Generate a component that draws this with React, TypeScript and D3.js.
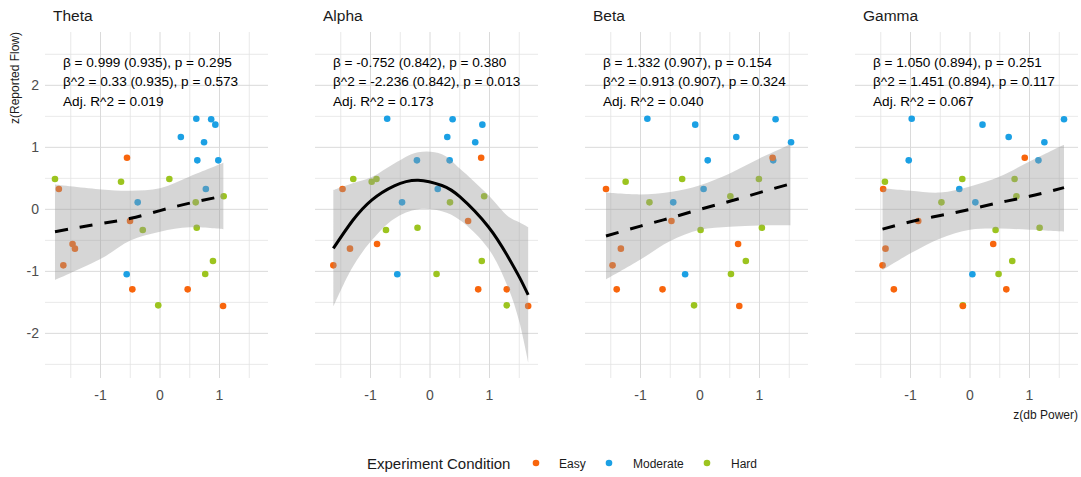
import React from "react";
import * as d3 from "d3";

const bands = ["Theta", "Alpha", "Beta", "Gamma"];
const conditions = ["Easy", "Moderate", "Hard"];
const conditionColors = ["#F8650C", "#1BA0E4", "#9CC41F"];

// one entry per participant
const participantCondition = [
  "Easy", "Easy", "Easy", "Easy", "Easy", "Easy", "Easy", "Easy", "Easy",
  "Moderate", "Moderate", "Moderate", "Moderate", "Moderate", "Moderate", "Moderate", "Moderate", "Moderate", "Moderate",
  "Hard", "Hard", "Hard", "Hard", "Hard", "Hard", "Hard", "Hard", "Hard", "Hard",
];
const reportedFlow = [
  0.833, 0.328, -0.188, -0.559, -0.634, -0.903, -1.29, -1.29, -1.559,
  1.462, 1.452, 1.366, 1.167, 1.081, 0.79, 0.79, 0.328, 0.113, -1.048,
  0.489, 0.489, 0.446, 0.21, 0.113, -0.296, -0.333, -0.833, -1.043, -1.548,
];
const powerTheta = [
  -0.555, -1.7, -0.504, -1.47, -1.43, -1.625, -0.465, 0.465, 1.06,
  0.61, 0.86, 0.93, 0.35, 0.74, 0.627, 0.98, 0.77, -0.375, -0.56,
  -1.765, 0.157, -0.655, 1.07, 0.6, 0.617, -0.29, 0.89, 0.76, -0.03,
];
const powerAlpha = [
  0.86, -1.47, 0.64, -0.89, -1.345, -1.625, 0.81, 1.29, 1.65,
  -0.72, 0.38, 0.88, 0.29, 0.76, -0.22, 0.33, 0.13, -0.47, -0.55,
  -1.29, -0.9, -0.98, 0.91, 0.336, -0.21, -0.74, 0.87, 0.11, 1.29,
];
const powerBeta = [
  1.22, -1.58, -0.48, 0.64, -1.33, -1.47, -1.4, -0.63, 0.66,
  -0.885, 1.27, -0.08, 0.61, 1.53, 0.13, 1.23, 0.06, -0.45, -0.25,
  -0.3, 0.99, -1.25, 0.51, -0.85, 1.04, 0.01, 0.77, 0.52, -0.1,
];
const powerGamma = [
  0.92, -1.46, -0.87, 0.39, -1.42, -1.47, -1.28, 0.61, -0.12,
  -0.98, 1.58, 0.21, 0.65, 1.25, -1.03, 1.15, -0.18, 0.09, 0.04,
  -0.13, 0.75, -1.43, 0.78, -0.48, 1.17, 0.43, 0.71, 0.48, -0.12,
];
const powerByBand = [powerTheta, powerAlpha, powerBeta, powerGamma];

// fitted curves
const fitXTheta = [-1.765, -0.98, -0.49, 0, 0.5, 1.065];
const fitYTheta = [-0.36, -0.226, -0.145, -0.02, 0.1, 0.215];
const fitLoTheta = [-1.14, -0.79, -0.5, -0.36, -0.29, -0.32];
const fitHiTheta = [0.4, 0.32, 0.3, 0.34, 0.53, 0.75];

const fitXAlpha = [-1.625, -1.3, -0.98, -0.6, -0.2, 0.2, 0.5, 0.98, 1.32, 1.5, 1.65];
const fitYAlpha = [-0.63, -0.18, 0.15, 0.38, 0.47, 0.385, 0.205, -0.28, -0.78, -1.09, -1.38];
const fitLoAlpha = [-1.57, -0.93, -0.5, -0.15, 0.0, -0.03, -0.17, -0.63, -1.28, -1.81, -2.47];
const fitHiAlpha = [0.31, 0.42, 0.52, 0.74, 0.92, 0.89, 0.66, 0.23, -0.12, -0.21, -0.29];

const fitXBeta = [-1.58, -1.0, -0.5, 0, 0.5, 1.0, 1.52];
const fitYBeta = [-0.43, -0.27, -0.14, 0.0, 0.13, 0.27, 0.41];
const fitLoBeta = [-1.13, -0.81, -0.51, -0.33, -0.28, -0.26, -0.26];
const fitHiBeta = [0.27, 0.24, 0.28, 0.39, 0.58, 0.82, 1.05];

const fitXGamma = [-1.47, -1.0, -0.5, 0, 0.5, 1.0, 1.58];
const fitYGamma = [-0.32, -0.2, -0.1, 0.0, 0.11, 0.21, 0.35];
const fitLoGamma = [-0.98, -0.71, -0.47, -0.33, -0.31, -0.33, -0.36];
const fitHiGamma = [0.34, 0.3, 0.27, 0.37, 0.53, 0.77, 1.04];

const fitX = [fitXTheta, fitXAlpha, fitXBeta, fitXGamma];
const fitY = [fitYTheta, fitYAlpha, fitYBeta, fitYGamma];
const fitLo = [fitLoTheta, fitLoAlpha, fitLoBeta, fitLoGamma];
const fitHi = [fitHiTheta, fitHiAlpha, fitHiBeta, fitHiGamma];
const fitLineType = ["dashed", "solid", "dashed", "dashed"];

const annotations = [
  ["β = 0.999 (0.935), p = 0.295", "β^2 = 0.33 (0.935), p = 0.573", "Adj. R^2 = 0.019"],
  ["β = -0.752 (0.842), p = 0.380", "β^2 = -2.236 (0.842), p = 0.013", "Adj. R^2 = 0.173"],
  ["β = 1.332 (0.907), p = 0.154", "β^2 = 0.913 (0.907), p = 0.324", "Adj. R^2 = 0.040"],
  ["β = 1.050 (0.894), p = 0.251", "β^2 = 1.451 (0.894), p = 0.117", "Adj. R^2 = 0.067"],
];

const xTicks = [-1, 0, 1];
const xMinor = [-1.5, -0.5, 0.5, 1.5];
const yTicks = [-2, -1, 0, 1, 2];
const yMinor = [-2.5, -1.5, -0.5, 0.5, 1.5, 2.5];

const FONT = "'Liberation Sans', Arial, sans-serif";
const W = 1081;
const H = 477;
const panelLefts = [45, 315, 585, 855];
const panelW = 223;
const panelTop = 32;
const panelBottom = 378;

export default function App() {
  const y = d3.scaleLinear().domain([2.86, -2.72]).range([panelTop, panelBottom]);
  const legendItems = [
    { label: conditions[0], dot: 536, text: 559 },
    { label: conditions[1], dot: 609, text: 633 },
    { label: conditions[2], dot: 707, text: 731 },
  ];
  const drawOrder = ["Moderate", "Hard", "Easy"];
  return (
    <svg width={W} height={H} style={{ position: "absolute", left: 0, top: 0, background: "#fff" }} fontFamily={FONT}>
      <rect width={W} height={H} fill="#fff" />
      {bands.map((band, bi) => {
        const left = panelLefts[bi];
        const x = d3.scaleLinear().domain([-1.933, 1.815]).range([left, left + panelW]);
        const xs = powerByBand[bi];
        const fit = fitX[bi].map((fx, i) => ({ x: fx, y: fitY[bi][i], lo: fitLo[bi][i], hi: fitHi[bi][i] }));
        const area = d3
          .area<any>()
          .x((d) => x(d.x))
          .y0((d) => y(d.lo))
          .y1((d) => y(d.hi))
          .curve(d3.curveCatmullRom.alpha(0.5));
        const line = d3
          .line<any>()
          .x((d) => x(d.x))
          .y((d) => y(d.y))
          .curve(d3.curveNatural);
        const idx = d3.range(xs.length);
        const ordered = drawOrder.flatMap((c) => idx.filter((i) => participantCondition[i] === c));
        return (
          <g key={band}>
            {yMinor.map((t) => (
              <line key={"ym" + t} x1={left} x2={left + panelW} y1={y(t)} y2={y(t)} stroke="#e3e3e3" strokeWidth={0.8} />
            ))}
            {xMinor.map((t) => (
              <line key={"xm" + t} x1={x(t)} x2={x(t)} y1={panelTop} y2={panelBottom} stroke="#e3e3e3" strokeWidth={0.8} />
            ))}
            {yTicks.map((t) => (
              <line key={"y" + t} x1={left} x2={left + panelW} y1={y(t)} y2={y(t)} stroke="#dadada" strokeWidth={1} />
            ))}
            {xTicks.map((t) => (
              <line key={"x" + t} x1={x(t)} x2={x(t)} y1={panelTop} y2={panelBottom} stroke="#dadada" strokeWidth={1} />
            ))}
            {ordered.map((i) => (
              <circle
                key={"p" + i}
                cx={x(xs[i])}
                cy={y(reportedFlow[i])}
                r={3.3}
                fill={conditionColors[conditions.indexOf(participantCondition[i])]}
              />
            ))}
            <path d={area(fit) || ""} fill="#999999" fillOpacity={0.4} />
            <path
              d={line(fit) || ""}
              fill="none"
              stroke="#000"
              strokeWidth={3}
              strokeDasharray={fitLineType[bi] === "dashed" ? "13 12" : undefined}
            />
            {annotations[bi].map((txt, li) => (
              <text key={"a" + li} x={left + 18} y={66.5 + li * 19.5} fontSize={13.6} fill="#000">
                {txt}
              </text>
            ))}
            <text x={left + 8} y={21} fontSize={15.5} fill="#1a1a1a">
              {band}
            </text>
            {xTicks.map((t) => (
              <text key={"xt" + t} x={x(t)} y={400} fontSize={14} fill="#4d4d4d" textAnchor="middle">
                {t}
              </text>
            ))}
            {bi === 0 &&
              yTicks.map((t) => (
                <text key={"yt" + t} x={39} y={y(t) + 5} fontSize={14} fill="#4d4d4d" textAnchor="end">
                  {t}
                </text>
              ))}
          </g>
        );
      })}
      <text transform={`translate(19,${panelTop}) rotate(-90)`} fontSize={12} textAnchor="end" fill="#1a1a1a">
        z(Reported Flow)
      </text>
      <text x={1078} y={419} fontSize={12} textAnchor="end" fill="#1a1a1a">
        z(db Power)
      </text>
      <text x={367} y={468.5} fontSize={15} fill="#1a1a1a">
        Experiment Condition
      </text>
      {legendItems.map((it, i) => (
        <g key={it.label}>
          <circle cx={it.dot} cy={463} r={3.3} fill={conditionColors[i]} />
          <text x={it.text} y={467.5} fontSize={12} fill="#1a1a1a">
            {it.label}
          </text>
        </g>
      ))}
    </svg>
  );
}
